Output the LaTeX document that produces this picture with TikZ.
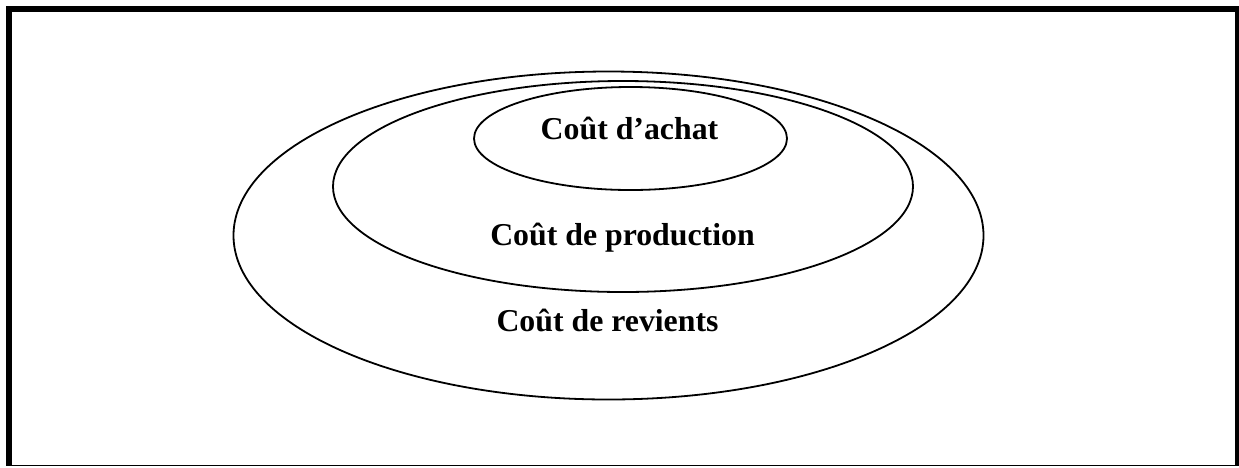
\documentclass[tikz,border=0pt]{standalone}
\usepackage{fontspec}
\setmainfont{Liberation Serif}
\usetikzlibrary{shapes.geometric}
\begin{document}
\begin{tikzpicture}[x=1pt,y=-1pt,
cost/.style = {ellipse,
	draw,
	line width=1.8pt,
inner sep=0pt},
costname/.style = {anchor=base,
font=\fontsize{31.8}{38}\selectfont\bfseries}]
\useasboundingbox (0,0) rectangle (1239,467);

\fill (6,6) rectangle (12,466);
\fill (6,6) rectangle (1239,12);
\fill (1235,6) rectangle (1239,466);
\fill (6,464.7) rectangle (1239,466);

\node (revient) at (608.5,235.5) [cost, minimum width=750pt, minimum height=328pt] {};
\node (production) at (623,186.5) [cost, minimum width=580pt, minimum height=211pt] {};
\node (achat) at (630.5,138.5) [cost, minimum width=313pt, minimum height=103pt] {};

\node (tachat) at (629.5,139) [costname] {Coût d’achat};
\node (tproduction) at (622.5,245) [costname] {Coût de production};
\node (trevient) at (607.5,331.5) [costname] {Coût de revients};
\end{tikzpicture}
\end{document}
